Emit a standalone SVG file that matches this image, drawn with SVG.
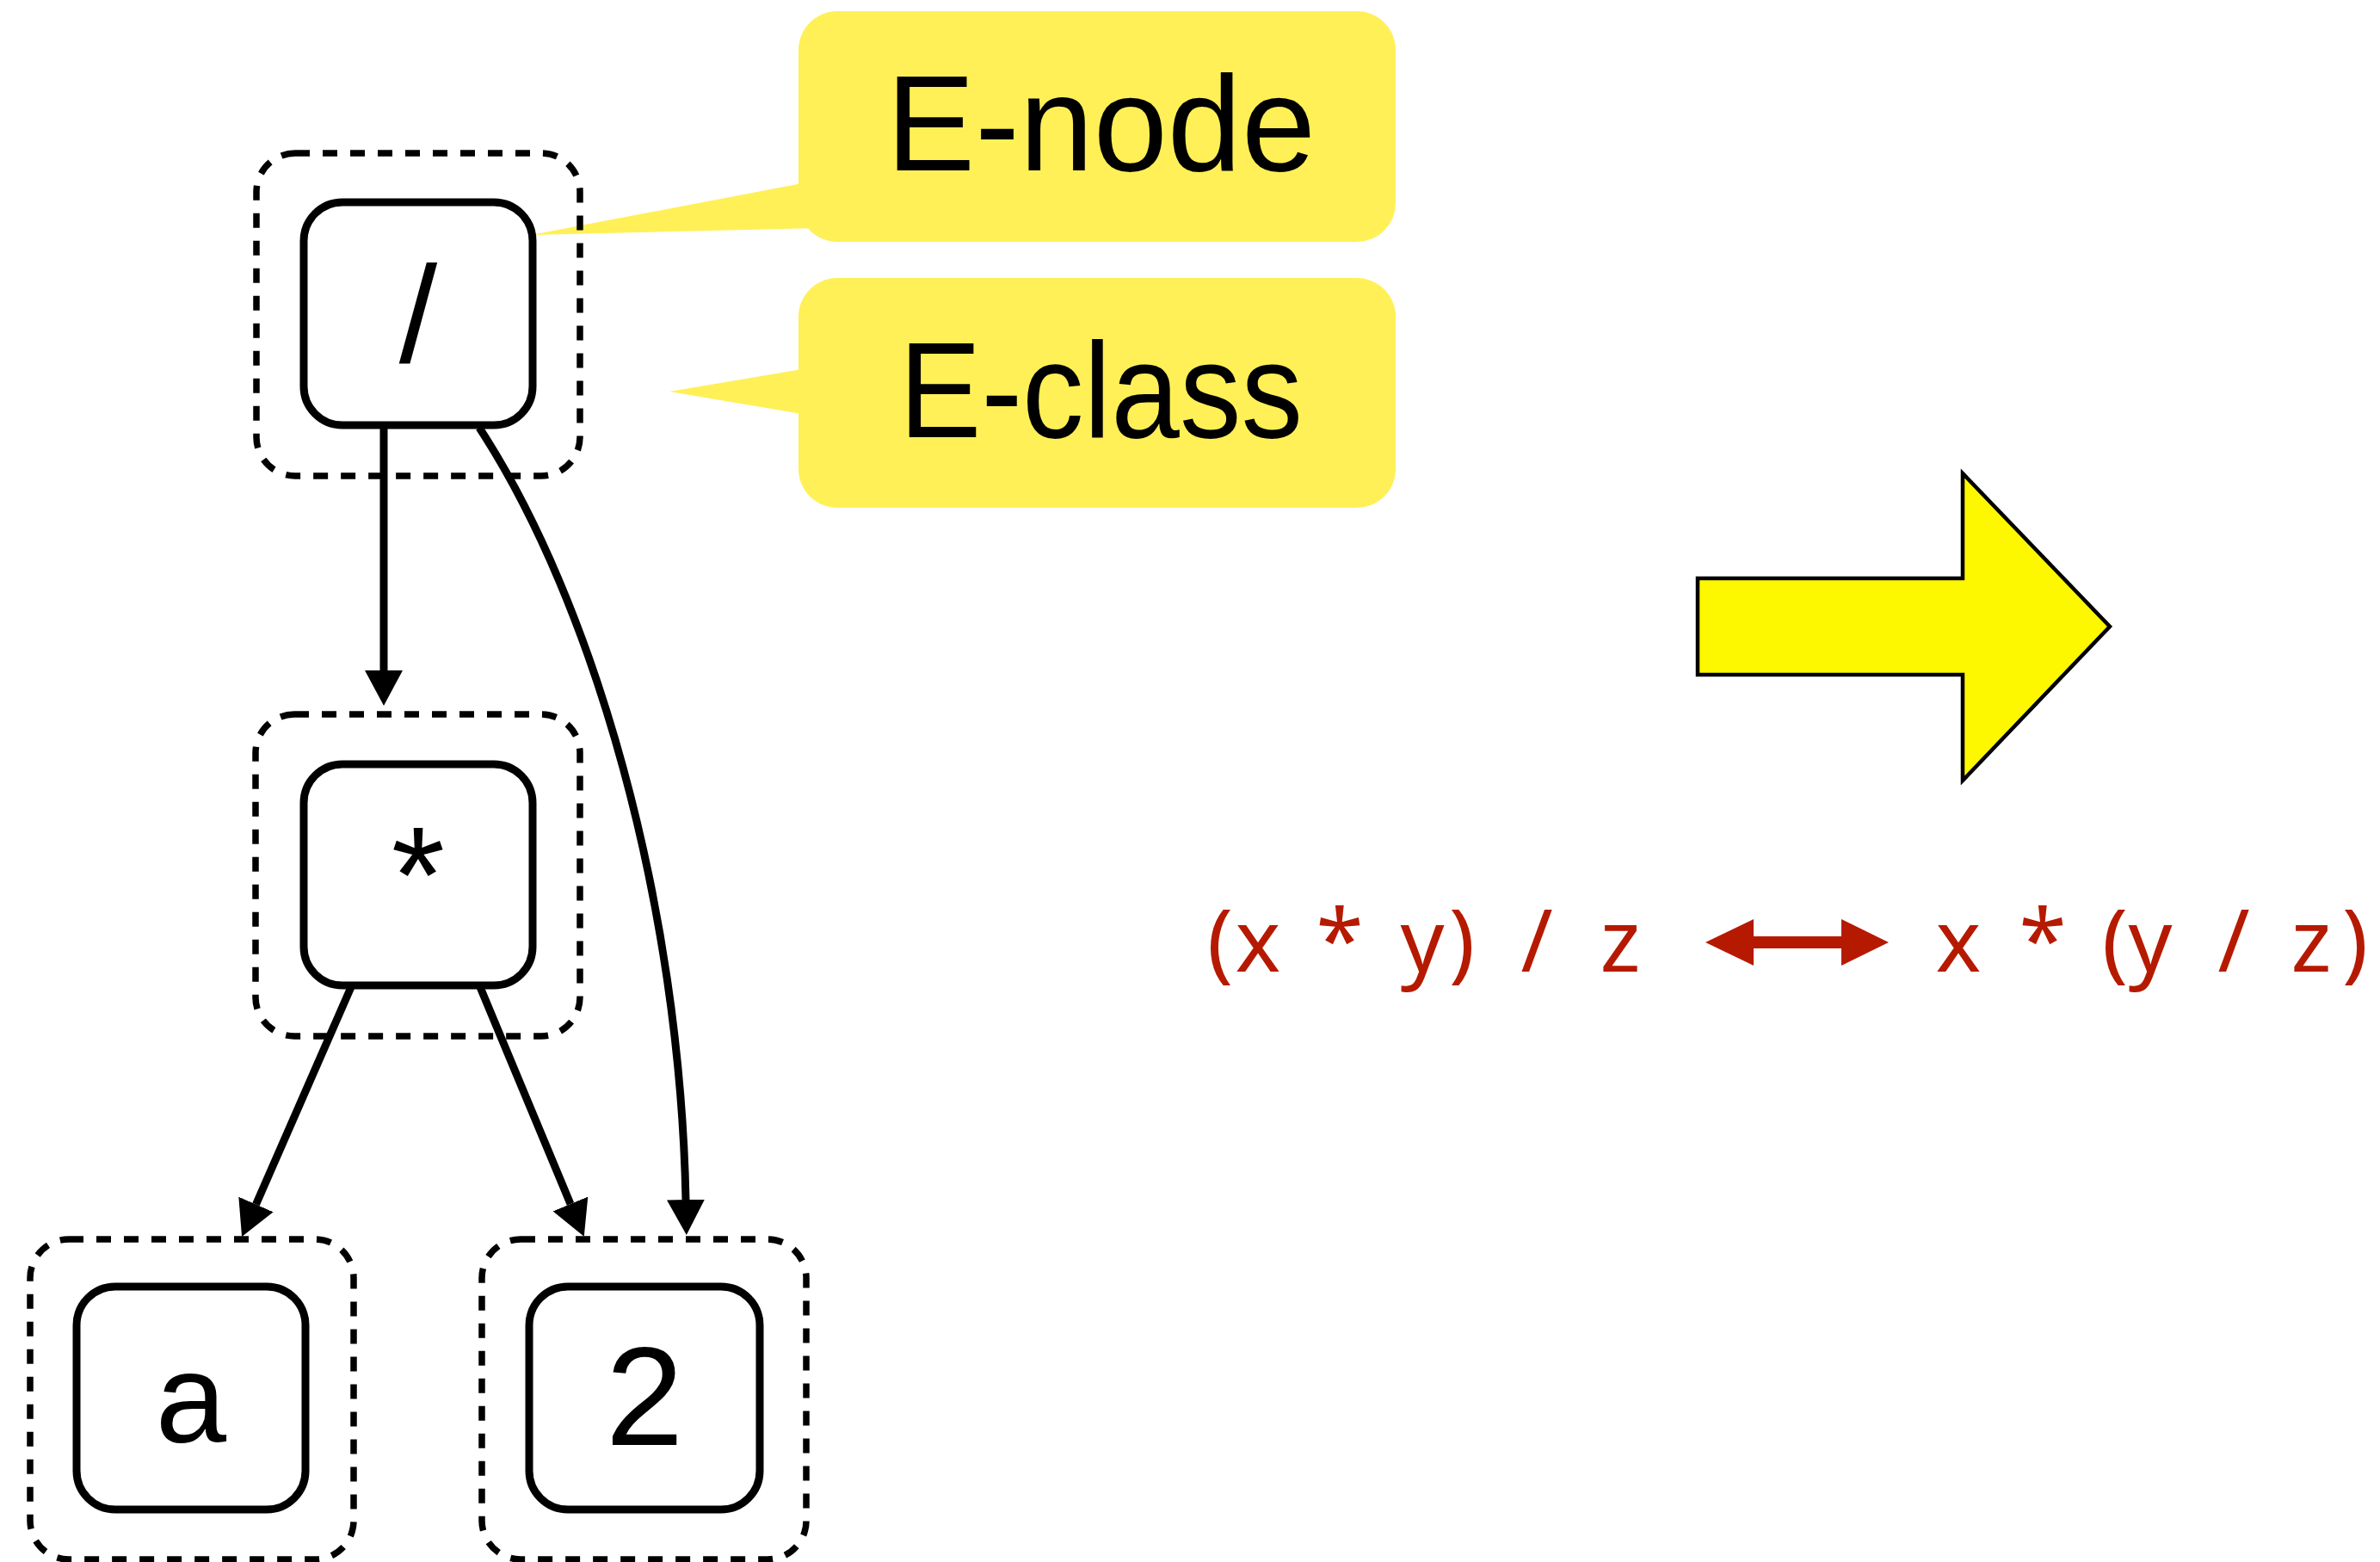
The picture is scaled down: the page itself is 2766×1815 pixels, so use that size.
<svg xmlns="http://www.w3.org/2000/svg" width="2766" height="1815" viewBox="0 0 2766 1815">
<style>
.eclass{fill:none;stroke:#000;stroke-width:7.5;stroke-dasharray:17 15}
.enode{fill:#fff;stroke:#000;stroke-width:9}
.lbl{font-family:"Liberation Sans",Arial,sans-serif;font-size:160px;fill:#000;text-anchor:middle}
.call{fill:#FFF057}
.calltxt{font-family:"Liberation Sans",Arial,sans-serif;font-size:158px;fill:#000}
.edge{fill:none;stroke:#000;stroke-width:9}
.expr{font-family:"Noto Sans","DejaVu Sans",sans-serif;font-size:100px;fill:#B51A00;text-anchor:middle}
</style>
<defs>
<marker id="ah" viewBox="0 0 41 44" refX="0" refY="22" markerWidth="41" markerHeight="44" markerUnits="userSpaceOnUse" orient="auto">
<path d="M0,0 L41,22 L0,44 Z" fill="#000"/>
</marker>
</defs>
<rect width="2766" height="1815" fill="#fff"/>
<g id="callout-enode">
<polygon class="call" points="932,213 617,273 952,265"/>
<rect class="call" x="928" y="13" width="694" height="268" rx="45" ry="45"/>
<text class="calltxt" x="1030" y="198" textLength="499" lengthAdjust="spacingAndGlyphs">E-node</text>
</g>
<g id="callout-eclass">
<polygon class="call" points="932,429 778,455 932,481"/>
<rect class="call" x="928" y="323" width="694" height="267" rx="45" ry="45"/>
<text class="calltxt" x="1045" y="508" textLength="469" lengthAdjust="spacingAndGlyphs">E-class</text>
</g>
<g id="connectors">
<line class="edge" x1="446" y1="494" x2="446" y2="779" marker-end="url(#ah)"/>
<path class="edge" d="M557,497 C690,700 790,1050 797,1394" marker-end="url(#ah)"/>
<line class="edge" x1="408" y1="1147" x2="297.5" y2="1399.5" marker-end="url(#ah)"/>
<line class="edge" x1="558" y1="1147" x2="663" y2="1399" marker-end="url(#ah)"/>
</g>
<g id="node-div">
<rect class="eclass" x="298" y="178" width="376" height="375" rx="45" ry="45"/>
<rect class="enode" x="353" y="235" width="266" height="259" rx="45" ry="45"/>
<text class="lbl" x="486" y="421">/</text>
</g>
<g id="node-mul">
<rect class="eclass" x="297" y="830" width="377" height="374" rx="45" ry="45"/>
<rect class="enode" x="353" y="888" width="266" height="257" rx="45" ry="45"/>
<text class="lbl" x="486" y="1072">*</text>
</g>
<g id="node-a">
<rect class="eclass" x="35" y="1440" width="376" height="372" rx="45" ry="45"/>
<rect class="enode" x="89" y="1495" width="266" height="259" rx="45" ry="45"/>
<text class="lbl" x="222" y="1676" style="font-size:148px">a</text>
</g>
<g id="node-2">
<rect class="eclass" x="560" y="1440" width="377" height="372" rx="45" ry="45"/>
<rect class="enode" x="615" y="1495" width="268" height="259" rx="45" ry="45"/>
<text class="lbl" x="749" y="1679" style="font-size:163px">2</text>
</g>
<g id="big-arrow">
<polygon points="1973,672 2281,672 2281,550 2452,728 2281,907 2281,784 1973,784" fill="#FDF700" stroke="#000" stroke-width="4.5"/>
</g>
<g id="rewrite">
<text class="expr" x="1418 1462 1510 1557 1605 1653 1699 1742 1786 1835 1883" y="1129">(x * y) / z</text>
<polygon points="1982,1095 2038,1068 2038,1088 2140,1088 2140,1068 2195,1095 2140,1122 2140,1102 2038,1102 2038,1122" fill="#B51A00"/>
<text class="expr" x="2276 2325 2374 2416 2458 2499 2548 2596 2641 2686 2737" y="1129">x * (y / z)</text>
</g>
</svg>
